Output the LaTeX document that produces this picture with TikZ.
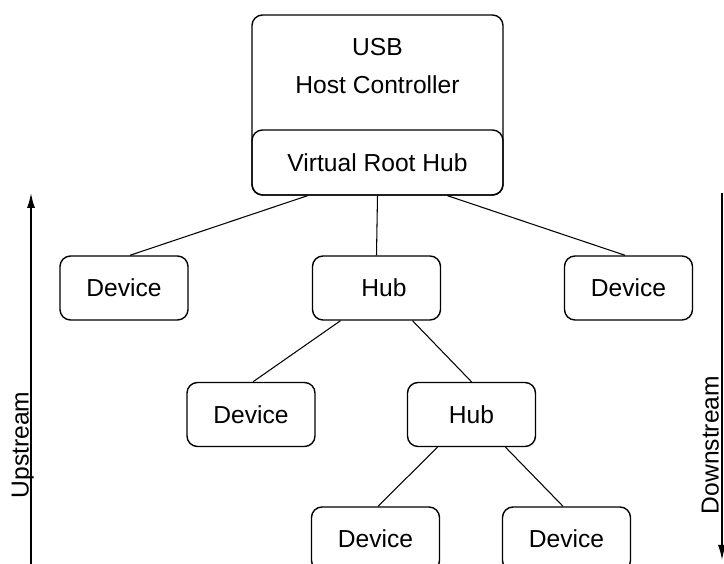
\documentclass[tikz,border=0pt]{standalone}
\usepackage{fontspec}
\setmainfont{Liberation Sans}
\usetikzlibrary{arrows.meta}

\tikzset{
    box/.style={draw, line width=0.8pt, rounded corners=6pt, minimum width=2.56cm, minimum height=1.28cm, inner sep=0pt},
    link/.style={line width=0.6pt},
    flow/.style={line width=0.8pt, -{Latex[length=3mm,width=1.6mm]}}
}

\begin{document}
\begin{tikzpicture}[font=\fontsize{14pt}{17pt}\selectfont]

        \clip (0,0) rectangle (14.48,11.28);

        % host controller with its root hub
        \node[box, minimum width=5.02cm, minimum height=3.6cm] (host) at (7.55,9.18) {};
        \node[align=center] (hostlabel) at (7.55,9.96) {USB\\[5pt]Host Controller};
        \node[box, minimum width=5.02cm, minimum height=1.3cm] (vroot) at (7.55,8.03) {Virtual Root Hub};

        % first tier
        \node[box] (devL) at (2.48,5.52) {Device};
        \node[box] (hub) at (7.53,5.52) {\hspace{0.3cm}Hub};
        \node[box] (devR) at (12.57,5.52) {Device};

        % second tier
        \node[box] (devM) at (5.02,2.99) {Device};
        \node[box] (hubB) at (9.43,2.99) {Hub};

        % third tier
        \node[box] (devA) at (7.51,0.5) {Device};
        \node[box] (devB) at (11.33,0.5) {Device};

        \draw[link] ([xshift=-1.4cm]vroot.south) -- ([xshift=0.12cm]devL.north);
        \draw[link] (vroot.south) -- (hub.north);
        \draw[link] ([xshift=1.4cm]vroot.south) -- ([xshift=-0.07cm]devR.north);
        \draw[link] ([xshift=-0.72cm]hub.south) -- ([xshift=0.04cm]devM.north);
        \draw[link] ([xshift=0.72cm]hub.south) -- (hubB.north);
        \draw[link] ([xshift=-0.68cm]hubB.south) -- ([xshift=0.05cm]devA.north);
        \draw[link] ([xshift=0.68cm]hubB.south) -- ([xshift=-0.07cm]devB.north);

        % direction arrows
        \coordinate (upB) at (0.62,0);
        \coordinate (upT) at (0.62,7.42);
        \coordinate (dnT) at (14.44,7.42);
        \coordinate (dnB) at (14.44,0.08);
        \draw[flow] (upB) -- (upT);
        \draw[flow] (dnT) -- (dnB);
        \node[rotate=90, anchor=base] (uptext) at (0.57,2.38) {Upstream};
        \node[rotate=90, anchor=base] (dntext) at (14.37,2.38) {Downstream};

\end{tikzpicture}
\end{document}
